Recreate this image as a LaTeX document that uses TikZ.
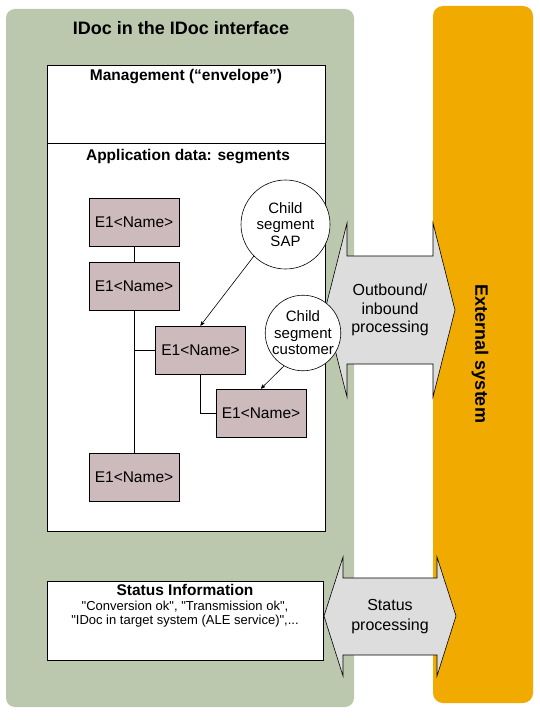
\documentclass[tikz,border=0pt]{standalone}
\usepackage{fontspec}
\setmainfont{Liberation Sans}
\usetikzlibrary{arrows, positioning}
\tikzset{
    %Define standard arrow tip
    >=stealth',
}
\definecolor{idocgreen}{RGB}{188,200,174}
\definecolor{extorange}{RGB}{240,170,0}
\definecolor{segpink}{RGB}{205,186,189}
\definecolor{procgrey}{RGB}{221,221,221}
\newcommand{\sq}{\textquotedbl}

\begin{document}
\begin{tikzpicture}[x=1bp, y=-1bp,
    hdr/.style = {font=\bfseries\fontsize{15.5bp}{18bp}\selectfont},
    big/.style = {font=\bfseries\fontsize{18bp}{20bp}\selectfont},
    part/.style = {draw, fill=white, line width=0.8bp, inner sep=0pt},
    seg/.style = {draw, fill=segpink, line width=0.8bp,
                  minimum width=90bp, minimum height=48bp,
                  font=\fontsize{15.5bp}{18bp}\selectfont},
    bubble/.style = {draw, fill=white, circle, line width=0.6bp,
                     minimum size=#1, inner sep=0pt, align=center,
                     font=\fontsize{15bp}{16.5bp}\selectfont},
    proc/.style = {draw, fill=procgrey, line width=0.6bp},
    proctext/.style = {align=center, font=\fontsize{16bp}{#1}\selectfont},
  ]
  \useasboundingbox (0,0) rectangle (540,720);
  % backgrounds
  \fill[idocgreen, rounded corners=9bp] (6,9) rectangle (354,707);
  \fill[extorange, rounded corners=10bp] (433,6) rectangle (533,703);
  \node[big] (idoc) at (181,28) {IDoc in the IDoc interface};
  \node[big, rotate=-90] (ext) at (480,354) {External system};

  % IDoc parts
  \node[part, minimum width=278bp, minimum height=78bp] (mgmt) at (186,104) {};
  \node[part, minimum width=278bp, minimum height=388bp] (appl) at (186,337) {};
  \node[hdr] (mgmttxt) at (186,77) {Management (“envelope”)};
  \node[hdr] (appltxt) at (188,157) {Application data: segments};
  \node[part, minimum width=276bp, minimum height=79bp] (stat) at (185,620.5) {};
  \node[align=center, font=\fontsize{13bp}{14.5bp}\selectfont] (stattxt) at (185,606)
    {{\bfseries\fontsize{15.5bp}{17bp}\selectfont Status Information}\\
     \sq Conversion ok\sq, \sq Transmission ok\sq,\\
     \sq IDoc in target system (ALE service)\sq,...};

  % segments
  \node[seg] (e1a) at (134,222) {E1<Name>};
  \node[seg] (e1b) at (134,286) {E1<Name>};
  \node[seg] (e1c) at (200.5,350) {E1<Name>};
  \node[seg] (e1d) at (261,413) {E1<Name>};
  \node[seg] (e1e) at (134,477) {E1<Name>};
  \draw[line width=0.8bp] (e1a) -- (e1b);
  \draw[line width=0.8bp] (e1b) -- (e1e);
  \draw[line width=0.8bp] (e1b.south |- e1c.west) -- (e1c.west);
  \draw[line width=0.8bp] (e1c.south) |- (e1d.west);

  % processing
  \draw[proc] (325,310) -- (347,223) -- (347,256) -- (433,256) -- (433,223)
    -- (455,310) -- (433,397) -- (433,364) -- (347,364) -- (347,397) -- cycle;
  \node[proctext=18.5bp] (inout) at (390,310) {Outbound/\\inbound\\processing};
  \draw[proc] (324,616) -- (343,557) -- (343,578) -- (437,578) -- (437,557)
    -- (456,616) -- (437,676) -- (437,655) -- (343,655) -- (343,676) -- cycle;
  \node[proctext=20bp] (statproc) at (390,617) {Status\\processing};

  % child segments
  \node[bubble=89bp] (sap) at (285.5,224.5) {Child\\segment\\SAP};
  \node[bubble=68bp] (cust) at (303,333) {Child\\segment\\customer};
  \draw[->, line width=0.6bp] (sap.225) -- (e1c.north);
  \draw[->, line width=0.6bp] (cust.240) -- (e1d.north);
\end{tikzpicture}
\end{document}
